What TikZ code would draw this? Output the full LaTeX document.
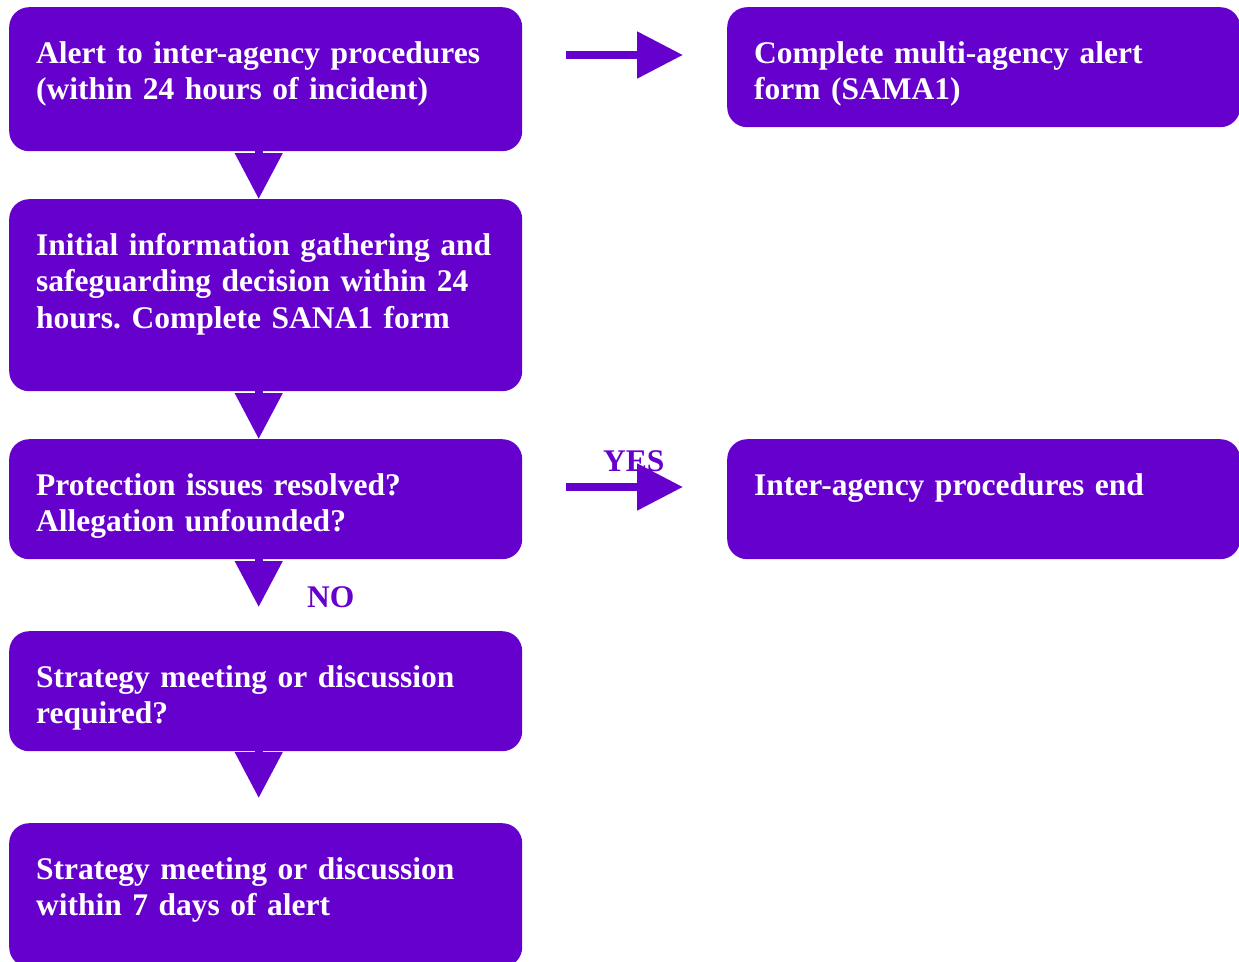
\documentclass[tikz,border=0pt]{standalone}
\usepackage{fontspec}
\setmainfont{Liberation Serif}
\frenchspacing
\usetikzlibrary{arrows.meta}
\definecolor{stepfill}{HTML}{6600CC}
\tikzset{
  stage/.style={draw=none, fill=stepfill, rounded corners=20pt, text=white,
    anchor=north west, align=left, text width=459pt, inner xsep=27pt, inner ysep=0pt,
    text height=56pt, font=\bfseries\fontsize{31.5}{36.5}\selectfont},
  short stage/.style={stage, text depth=64pt},
  tall stage/.style={stage, text depth=88pt},
  answer/.style={anchor=base west, inner sep=0pt, text=stepfill,
    font=\bfseries\fontsize{31.5}{36.5}\selectfont},
  down arrow/.style={-{Triangle[length=46pt,width=46pt]}, stepfill, line width=8pt},
  side arrow/.style={-{Triangle[length=46pt,width=45pt]}, stepfill, line width=8.5pt,
    shorten <=44pt, shorten >=44pt},
}

\begin{document}
\begin{tikzpicture}[x=1pt,y=-1pt]
  \useasboundingbox (0,0) rectangle (1239,961);

  % left column
  \node[tall stage] (alert) at (9,7)
    {Alert to inter-agency procedures\\(within 24 hours of incident)};
  \node[stage, text depth=136pt] (gather) at (9,199)
    {Initial information gathering and\\safeguarding decision within 24\\hours. Complete SANA1 form};
  \node[short stage] (resolved) at (9,439)
    {Protection issues resolved?\\Allegation unfounded?};
  \node[short stage] (strategy) at (9,631)
    {Strategy meeting or discussion\\required?};
  \node[tall stage] (meeting) at (9,823)
    {Strategy meeting or discussion\\within 7 days of alert};

  % right column
  \node[short stage] (samaform) at (727,7)
    {Complete multi-agency alert\\form (SAMA1)};
  \node[short stage] (procend) at (727,439)
    {Inter-agency procedures end};

  % answers
  \node[answer] (yeslbl) at (603,471) {YES};
  \node[answer] (nolbl) at (307,607) {NO};

  % flow down the left column
  \draw[down arrow] ([xshift=-7pt]alert.south) -- ([xshift=-7pt]gather.north);
  \draw[down arrow] ([xshift=-7pt]gather.south) -- ([xshift=-7pt]resolved.north);
  \draw[down arrow,shorten >=24pt] ([xshift=-7pt]resolved.south) -- ([xshift=-7pt]strategy.north);
  \draw[down arrow,shorten >=25pt] ([xshift=-7pt]strategy.south) -- ([xshift=-7pt]meeting.north);

  % flow to the right column
  \draw[side arrow] ([yshift=-48pt]alert.north east) -- ([yshift=-48pt]samaform.north west);
  \draw[side arrow] ([yshift=-48pt]resolved.north east) -- ([yshift=-48pt]procend.north west);
\end{tikzpicture}
\end{document}
